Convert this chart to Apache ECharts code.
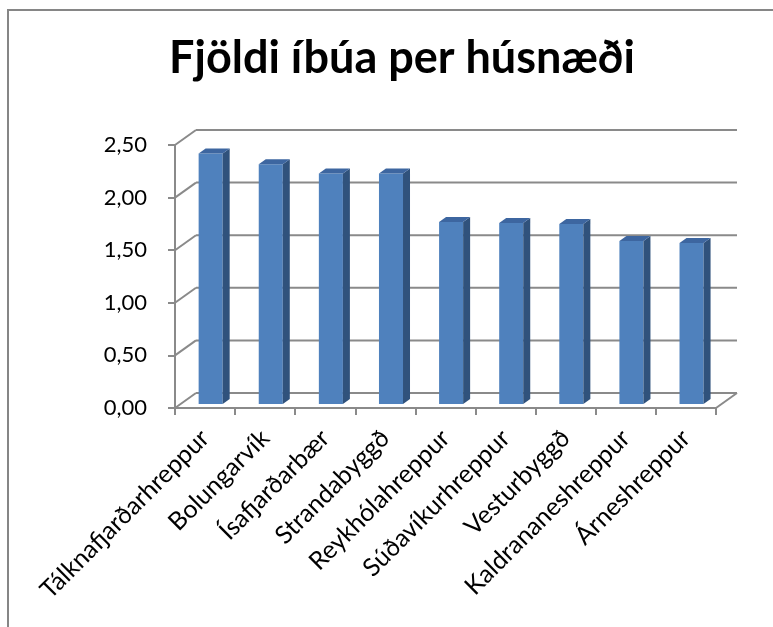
<!DOCTYPE html>
<html><head><meta charset="utf-8">
<script src="https://cdn.jsdelivr.net/npm/echarts@6/dist/echarts.min.js"></script>
<style>html,body{margin:0;padding:0;background:#fff}#c{width:773px;height:627px}</style>
</head><body><div id="c"></div>
<script>
const categories = ['Tálknafjarðarhreppur','Bolungarvík','Ísafjarðarbær','Strandabyggð','Reykhólahreppur','Súðavíkurhreppur','Vesturbyggð','Kaldrananeshreppur','Árneshreppur'];
const values = [2.38, 2.28, 2.19, 2.19, 1.73, 1.72, 1.71, 1.55, 1.53];
const yTicks = [0, 0.5, 1, 1.5, 2, 2.5];
const titleText = 'Fjöldi íbúa per húsnæði';

const FONT = 'Lato';
const GRID_COLOR = '#8a8a8a';
const WALL_DX = 21, WALL_DY = -15;
const BAR_OX = 5.6, BAR_OY = -4, BAR_DX = 7, BAR_DY = -5;

const chart = echarts.init(document.getElementById('c'), null, {renderer: 'canvas'});
chart.setOption({
  backgroundColor: '#fff',
  animation: false,
  title: {
    text: titleText, left: 397, top: 31, textAlign: 'center',
    textStyle: {fontFamily: FONT, fontWeight: 'bold', fontSize: 45, color: '#000'}
  },
  graphic: [{
    type: 'rect', shape: {x: 8, y: 10, width: 900, height: 900},
    style: {fill: 'none', stroke: '#868686', lineWidth: 2}, silent: true, z: -10
  }],
  grid: {left: 175, right: 57, top: 145, bottom: 219},
  xAxis: {
    type: 'category', data: categories, boundaryGap: true,
    axisLine: {show: true, lineStyle: {color: GRID_COLOR, width: 2}},
    axisTick: {show: true, length: 7, alignWithLabel: false, interval: 0, lineStyle: {color: GRID_COLOR, width: 2}},
    axisLabel: {rotate: 45, interval: 0, margin: 26, fontFamily: FONT, fontSize: 25, color: '#000'}
  },
  yAxis: {
    type: 'value', min: 0, max: 2.5, interval: 0.5,
    axisLine: {show: true, lineStyle: {color: GRID_COLOR, width: 2}},
    axisTick: {show: true, length: 7, lineStyle: {color: GRID_COLOR, width: 2}},
    splitLine: {show: false},
    axisLabel: {margin: 28, fontFamily: FONT, fontSize: 22, color: '#000',
      formatter: v => v.toFixed(2).replace('.', ',')}
  },
  series: [
    {
      type: 'custom', z: 1, silent: true,
      data: yTicks.map(v => [0, v]),
      renderItem(params, api) {
        const cs = params.coordSys;
        const y = api.coord([0, api.value(1)])[1];
        const x0 = cs.x, x1 = cs.x + cs.width;
        const st = {stroke: GRID_COLOR, lineWidth: 2, fill: 'none'};
        const ch = [
          {type: 'line', shape: {x1: x0, y1: y, x2: x0 + WALL_DX, y2: y + WALL_DY}, style: st},
          {type: 'line', shape: {x1: x0 + WALL_DX, y1: y + WALL_DY, x2: x1 + WALL_DX, y2: y + WALL_DY}, style: st}
        ];
        if (api.value(1) === 0) {
          ch.push({type: 'line', shape: {x1: x1, y1: y, x2: x1 + WALL_DX, y2: y + WALL_DY}, style: st});
        }
        return {type: 'group', children: ch};
      }
    },
    {
      type: 'custom', z: 5, silent: true,
      data: values.map((v, i) => [i, v]),
      renderItem(params, api) {
        const i = api.value(0), v = api.value(1);
        const base = api.coord([i, 0]), topP = api.coord([i, v]);
        const w = api.size([1, 0])[0] * 0.4;
        const fx = base[0] - w / 2 + BAR_OX;
        const fy0 = base[1] + BAR_OY, fy1 = topP[1] + BAR_OY;
        const xr = fx + w;
        return {type: 'group', children: [
          {type: 'rect', shape: {x: fx, y: fy1, width: w, height: fy0 - fy1}, style: {fill: '#4F81BD'}},
          {type: 'polygon', shape: {points: [[xr, fy1], [xr + BAR_DX, fy1 + BAR_DY], [xr + BAR_DX, fy0 + BAR_DY], [xr, fy0]]}, style: {fill: '#30527C'}},
          {type: 'polygon', shape: {points: [[fx, fy1], [fx + BAR_DX, fy1 + BAR_DY], [xr + BAR_DX, fy1 + BAR_DY], [xr, fy1]]}, style: {fill: '#3D66A0'}}
        ]};
      }
    }
  ]
});
</script>
</body></html>
